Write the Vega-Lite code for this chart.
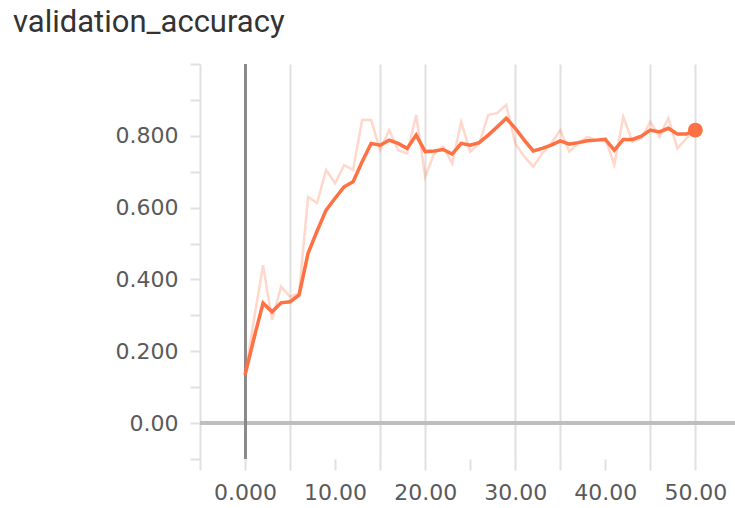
{
  "$schema": "https://vega.github.io/schema/vega-lite/v6.json",
  "autosize": {"type": "none"},
  "width": 535,
  "height": 395,
  "padding": {"left": 200, "top": 64, "right": 0, "bottom": 49},
  "background": "white",
  "title": {
    "text": "validation_accuracy",
    "anchor": "start",
    "frame": "group",
    "dx": -187,
    "dy": 11,
    "offset": 1,
    "baseline": "alphabetic",
    "font": "Roboto",
    "fontSize": 31,
    "fontWeight": "normal",
    "color": "#333333"
  },
  "config": {
    "view": {"stroke": null},
    "axisX": {
      "values": [-5, 0, 5, 10, 15, 20, 25, 30, 35, 40, 45, 50],
      "labelExpr": "datum.value == 0 ? '0.000' : (datum.value % 10 == 0 ? format(datum.value, '.2f') : '')",
      "grid": true,
      "gridColor": {"condition": {"test": "datum.value == 10 || datum.value == 25 || datum.value == 40 || datum.value == -5", "value": "transparent"}, "value": "#e0e0e0"},
      "gridWidth": 2,
      "domain": false,
      "tickColor": "#e0e0e0",
      "tickWidth": 2,
      "tickSize": 11,
      "labelFont": "DejaVu Sans",
      "labelFontSize": 22,
      "labelColor": "#5a5a5a",
      "labelPadding": 12,
      "labelFlush": false,
      "labelOverlap": false,
      "title": null
    },
    "axisY": {
      "values": [-0.1, 0, 0.1, 0.2, 0.3, 0.4, 0.5, 0.6, 0.7, 0.8, 0.9, 1.0],
      "labelExpr": "datum.value == 0 ? '0.00' : ((datum.value > 0.05 && datum.value < 0.85 && round(datum.value * 10) % 2 == 0) ? format(datum.value, '.3f') : '')",
      "grid": false,
      "domain": true,
      "domainColor": "#e0e0e0",
      "domainWidth": 2,
      "tickColor": "#e0e0e0",
      "tickWidth": 2,
      "tickSize": 10,
      "labelFont": "DejaVu Sans",
      "labelFontSize": 22,
      "labelColor": "#5a5a5a",
      "labelPadding": 12,
      "labelFlush": false,
      "labelOverlap": false,
      "title": null
    }
  },
  "data": {
    "values": [
      {"step": 0, "raw": 0.134, "smoothed": 0.134},
      {"step": 1, "raw": 0.29, "smoothed": 0.237},
      {"step": 2, "raw": 0.44, "smoothed": 0.334},
      {"step": 3, "raw": 0.287, "smoothed": 0.31},
      {"step": 4, "raw": 0.38, "smoothed": 0.335},
      {"step": 5, "raw": 0.352, "smoothed": 0.338},
      {"step": 6, "raw": 0.362, "smoothed": 0.357},
      {"step": 7, "raw": 0.63, "smoothed": 0.473},
      {"step": 8, "raw": 0.613, "smoothed": 0.535},
      {"step": 9, "raw": 0.705, "smoothed": 0.593},
      {"step": 10, "raw": 0.668, "smoothed": 0.626},
      {"step": 11, "raw": 0.718, "smoothed": 0.658},
      {"step": 12, "raw": 0.705, "smoothed": 0.672},
      {"step": 13, "raw": 0.844, "smoothed": 0.728},
      {"step": 14, "raw": 0.844, "smoothed": 0.779},
      {"step": 15, "raw": 0.76, "smoothed": 0.774},
      {"step": 16, "raw": 0.816, "smoothed": 0.788},
      {"step": 17, "raw": 0.76, "smoothed": 0.779},
      {"step": 18, "raw": 0.751, "smoothed": 0.765},
      {"step": 19, "raw": 0.858, "smoothed": 0.802},
      {"step": 20, "raw": 0.686, "smoothed": 0.756},
      {"step": 21, "raw": 0.751, "smoothed": 0.758},
      {"step": 22, "raw": 0.77, "smoothed": 0.762},
      {"step": 23, "raw": 0.723, "smoothed": 0.749},
      {"step": 24, "raw": 0.839, "smoothed": 0.779},
      {"step": 25, "raw": 0.756, "smoothed": 0.774},
      {"step": 26, "raw": 0.779, "smoothed": 0.781},
      {"step": 27, "raw": 0.858, "smoothed": 0.802},
      {"step": 28, "raw": 0.863, "smoothed": 0.825},
      {"step": 29, "raw": 0.886, "smoothed": 0.849},
      {"step": 30, "raw": 0.779, "smoothed": 0.821},
      {"step": 31, "raw": 0.742, "smoothed": 0.788},
      {"step": 32, "raw": 0.714, "smoothed": 0.758},
      {"step": 33, "raw": 0.751, "smoothed": 0.765},
      {"step": 34, "raw": 0.779, "smoothed": 0.774},
      {"step": 35, "raw": 0.816, "smoothed": 0.786},
      {"step": 36, "raw": 0.756, "smoothed": 0.777},
      {"step": 37, "raw": 0.779, "smoothed": 0.781},
      {"step": 38, "raw": 0.797, "smoothed": 0.786},
      {"step": 39, "raw": 0.788, "smoothed": 0.788},
      {"step": 40, "raw": 0.792, "smoothed": 0.79},
      {"step": 41, "raw": 0.719, "smoothed": 0.76},
      {"step": 42, "raw": 0.853, "smoothed": 0.79},
      {"step": 43, "raw": 0.784, "smoothed": 0.79},
      {"step": 44, "raw": 0.793, "smoothed": 0.799},
      {"step": 45, "raw": 0.839, "smoothed": 0.816},
      {"step": 46, "raw": 0.797, "smoothed": 0.811},
      {"step": 47, "raw": 0.849, "smoothed": 0.821},
      {"step": 48, "raw": 0.765, "smoothed": 0.805},
      {"step": 49, "raw": 0.793, "smoothed": 0.805},
      {"step": 50, "raw": 0.816, "smoothed": 0.816}
    ]
  },
  "layer": [
    {
      "mark": {"type": "rule", "color": "#bdbdbd", "strokeWidth": 3},
      "encoding": {
        "y": {"datum": 0, "type": "quantitative", "scale": {"domain": [-0.1, 1.0], "nice": false, "zero": false}}
      }
    },
    {
      "mark": {"type": "rule", "color": "#8a8a8a", "strokeWidth": 2},
      "encoding": {
        "x": {"datum": 0, "type": "quantitative", "scale": {"domain": [-5, 54.4], "nice": false, "zero": false}}
      }
    },
    {
      "mark": {"type": "line", "color": "#ff7043", "opacity": 0.28, "strokeWidth": 2.5},
      "encoding": {
        "x": {"field": "step", "type": "quantitative", "scale": {"domain": [-5, 54.4], "nice": false, "zero": false}},
        "y": {"field": "raw", "type": "quantitative", "scale": {"domain": [-0.1, 1.0], "nice": false, "zero": false}}
      }
    },
    {
      "mark": {"type": "line", "color": "#ff7043", "strokeWidth": 3.5},
      "encoding": {
        "x": {"field": "step", "type": "quantitative", "scale": {"domain": [-5, 54.4], "nice": false, "zero": false}},
        "y": {"field": "smoothed", "type": "quantitative", "scale": {"domain": [-0.1, 1.0], "nice": false, "zero": false}}
      }
    },
    {
      "transform": [{"filter": "datum.step == 50"}],
      "mark": {"type": "circle", "color": "#ff7043", "opacity": 1, "size": 220},
      "encoding": {
        "x": {"field": "step", "type": "quantitative", "scale": {"domain": [-5, 54.4], "nice": false, "zero": false}},
        "y": {"field": "smoothed", "type": "quantitative", "scale": {"domain": [-0.1, 1.0], "nice": false, "zero": false}}
      }
    }
  ]
}
